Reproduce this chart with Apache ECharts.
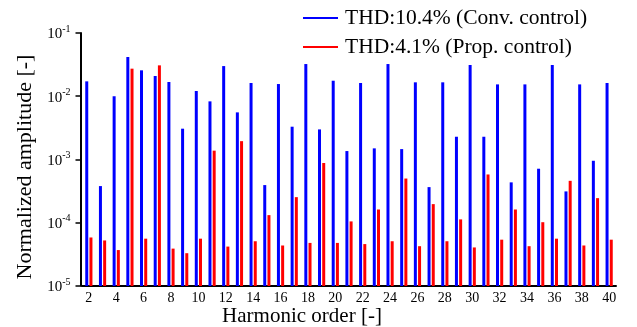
<!DOCTYPE html>
<html>
<head>
<meta charset="utf-8">
<script src="https://cdn.jsdelivr.net/npm/echarts@6/dist/echarts.min.js"></script>
<style>html,body{margin:0;padding:0;background:#fff}#c{width:637px;height:327px}</style>
</head>
<body>
<div id="c"></div>
<script>
const harmonics = ['2','3','4','5','6','7','8','9','10','11','12','13','14','15','16','17','18','19','20','21','22','23','24','25','26','27','28','29','30','31','32','33','34','35','36','37','38','39','40'];
const convControl = [0.0172,3.8e-4,0.0100,0.0417,0.0257,0.0209,0.0168,3.07e-3,0.0121,8.3e-3,0.0300,5.56e-3,0.0162,3.94e-4,0.0156,3.3e-3,0.0323,2.99e-3,0.0176,1.36e-3,0.0162,1.5e-3,0.0323,1.46e-3,0.0166,3.66e-4,0.0166,2.29e-3,0.0312,2.29e-3,0.0154,4.35e-4,0.0154,7.15e-4,0.0312,3.13e-4,0.0154,9.55e-4,0.0162];
const propControl = [5.85e-5,5.25e-5,3.7e-5,0.0273,5.6e-5,0.0308,3.9e-5,3.3e-5,5.6e-5,1.38e-3,4.2e-5,1.95e-3,5.1e-5,1.32e-4,4.37e-5,2.54e-4,4.8e-5,8.8e-4,4.8e-5,1.05e-4,4.6e-5,1.62e-4,5.1e-5,5.0e-4,4.26e-5,1.97e-4,5.1e-5,1.13e-4,4.07e-5,5.8e-4,5.4e-5,1.62e-4,4.26e-5,1.02e-4,5.6e-5,4.6e-4,4.37e-5,2.45e-4,5.4e-5];
const seriesNames = ['THD:10.4% (Conv. control)','THD:4.1% (Prop. control)'];
const FONT = "'Liberation Serif','Times New Roman',serif";

const chart = echarts.init(document.getElementById('c'), null, {renderer:'canvas'});
chart.setOption({
  animation: false,
  backgroundColor: '#fff',
  textStyle: {fontFamily: FONT, color: '#000'},
  grid: {left: 82, right: 21, top: 33, bottom: 41, outerBoundsMode: 'none', containLabel: false},
  legend: {
    orient: 'vertical', left: 303, top: 7, padding: 0, icon: 'rect', itemWidth: 35, itemHeight: 2, itemGap: 7,
    textStyle: {fontFamily: FONT, fontSize: 21.5, color: '#000', lineHeight: 21, padding: [0,0,0,2]},
    data: seriesNames
  },
  xAxis: {
    type: 'category', data: harmonics,
    axisLine: {lineStyle: {color: '#000', width: 2}},
    axisTick: {show: false},
    axisLabel: {interval: 1, fontFamily: FONT, fontSize: 14, color: '#000', margin: 5},
    name: 'Harmonic order [-]', nameLocation: 'middle', nameGap: 20, nameMoveOverlap: false,
    nameTextStyle: {fontFamily: FONT, fontSize: 21, color: '#000', padding: [0, 94, 0, 0]}
  },
  yAxis: {
    type: 'log', logBase: 10, min: 1e-5, max: 1e-1, startValue: 1e-5, offset: 1.5,
    axisLine: {show: true, lineStyle: {color: '#000', width: 2}},
    axisTick: {show: true, length: 5, lineStyle: {color: '#000', width: 1.5}},
    splitLine: {show: false}, minorTick: {show: false},
    axisLabel: {
      margin: 10, color: '#000',
      formatter: function (v) { const e = Math.round(Math.log10(v)); return '{b|10}{s|' + e + '}'; },
      rich: {
        b: {fontFamily: FONT, fontSize: 15, lineHeight: 18, verticalAlign: 'bottom', color: '#000'},
        s: {fontFamily: FONT, fontSize: 10, lineHeight: 18, verticalAlign: 'top', color: '#000'}
      }
    },
    name: 'Normalized amplitude [-]', nameLocation: 'middle', nameGap: 44, nameRotate: 90, nameMoveOverlap: false,
    nameTextStyle: {fontFamily: FONT, fontSize: 22, color: '#000', padding: [0, 15, 0, 0]}
  },
  series: [
    {name: seriesNames[0], type: 'bar', data: convControl, barWidth: 3, barGap: '40%', itemStyle: {color: '#0000ff'}},
    {name: seriesNames[1], type: 'bar', data: propControl, barWidth: 3, barGap: '40%', itemStyle: {color: '#ff0000'}}
  ]
});
</script>
</body>
</html>
